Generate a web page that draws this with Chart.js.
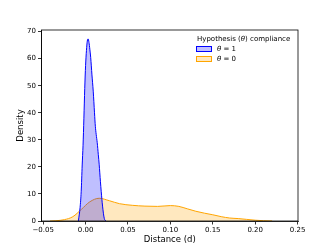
<!DOCTYPE html>
<html><head><meta charset="utf-8">
<script src="https://cdn.jsdelivr.net/npm/chart.js@4"></script>
<style>html,body{margin:0;padding:0;background:#fff}#wrap{width:332px;height:249px}</style>
</head><body><div id="wrap"><canvas id="c" width="332" height="249"></canvas></div>
<script>
// Data (KDE curves)
const blueX = [-0.0085,-0.0065,-0.0052,-0.004,-0.003,-0.002,-0.001,0.0,0.001,0.002,0.003,0.004,0.005,0.006,0.0075,0.009,0.0105,0.0115,0.0125,0.0137,0.015,0.016,0.0175,0.0184,0.02,0.022,0.024];
const blueY = [0,5,10.8,20.7,28,38,49,57.5,63,66.5,67.3,66,63.5,60.5,54,48,40,35,32,29,24.5,21,14.5,11,5.5,1,0];
const orangeX = [-0.042,-0.035,-0.025,-0.015,-0.005,0.005,0.016,0.028,0.04,0.055,0.07,0.085,0.1,0.11,0.12,0.13,0.14,0.15,0.16,0.17,0.18,0.19,0.2,0.21,0.22];
const orangeY = [0,0.1,0.5,1.6,4.3,7.1,8.4,7.5,6.4,5.8,5.5,5.4,5.7,5.4,4.5,3.6,2.9,2.3,1.6,1.1,0.9,0.6,0.3,0.1,0];
const seriesLabels = ['θ = 1','θ = 0'];
const legendTitle = 'Hypothesis (θ) compliance';
const xTicks = [-0.05,0,0.05,0.1,0.15,0.2,0.25];
const yTicks = [0,10,20,30,40,50,60,70];
const xTitle = 'Distance (d)';
const yTitle = 'Density';

const FONT = 'DejaVu Sans';
const toPts = (xs, ys) => xs.map((x,i)=>({x:x,y:ys[i]}));

function drawMixed(ctx, text, x, y, size){
  let cx = x;
  for (const ch of text){
    ctx.font = (ch==='θ' ? 'italic ' : '') + size + 'px "' + FONT + '"';
    ctx.fillText(ch, cx, y);
    cx += ctx.measureText(ch).width;
  }
}

const framePlugin = {
  id:'frame',
  afterDatasetsDraw(chart){
    const {ctx, chartArea:a} = chart;
    ctx.save();
    ctx.strokeStyle = '#000'; ctx.lineWidth = 0.8;
    ctx.strokeRect(a.left, a.top, a.right-a.left, a.bottom-a.top);
    // legend inside
    ctx.fillStyle = '#000'; ctx.textBaseline = 'middle'; ctx.textAlign='left';
    drawMixed(ctx, legendTitle, 197, 39.5, 7);
    chart.data.datasets.forEach((ds,i)=>{
      const y = 49 + i*10;
      ctx.fillStyle = ds.backgroundColor;
      ctx.fillRect(196.5, y-2.5, 15, 5);
      ctx.strokeStyle = ds.borderColor; ctx.lineWidth = 1;
      ctx.strokeRect(196.5, y-2.5, 15, 5);
      ctx.fillStyle = '#000';
      drawMixed(ctx, ds.label, 217, y, 7);
    });
    ctx.restore();
  }
};

new Chart(document.getElementById('c'), {
  type:'scatter',
  data:{datasets:[
    {label:seriesLabels[0], data:toPts(blueX,blueY), showLine:true, fill:'origin',
     borderColor:'#0000ff', backgroundColor:'rgba(0,0,255,0.25)', borderWidth:1,
     pointRadius:0, cubicInterpolationMode:'monotone'},
    {label:seriesLabels[1], data:toPts(orangeX,orangeY), showLine:true, fill:'origin',
     borderColor:'#ffa500', backgroundColor:'rgba(255,165,0,0.25)', borderWidth:1,
     pointRadius:0, cubicInterpolationMode:'monotone'}
  ]},
  options:{
    responsive:false, animation:false, devicePixelRatio:1,
    layout:{padding:{left:16,right:34,top:30,bottom:0}},
    plugins:{legend:{display:false}, tooltip:{enabled:false}},
    scales:{
      x:{type:'linear', min:-0.052, max:0.2505,
        afterBuildTicks(s){ s.ticks = xTicks.map(v=>({value:v})); },
        afterFit(s){ s.height = 28; },
        grid:{display:true, drawOnChartArea:false, drawTicks:true, tickLength:3.5, color:'#000', lineWidth:0.8},
        border:{display:true, color:'#000', width:0.8},
        ticks:{color:'#000', font:{family:FONT, size:7}, padding:1, maxRotation:0, autoSkip:false,
          callback:(v)=> (v<0?'\u2212':'') + Math.abs(v).toFixed(2)},
        title:{display:true, text:xTitle, color:'#000', font:{family:FONT, size:8.5}, padding:{top:1,bottom:4.5}}
      },
      y:{type:'linear', min:0, max:70.6,
        afterBuildTicks(s){ s.ticks = yTicks.map(v=>({value:v})); },
        afterFit(s){ s.width = 25.5; },
        grid:{display:true, drawOnChartArea:false, drawTicks:true, tickLength:3.5, color:'#000', lineWidth:0.8},
        border:{display:true, color:'#000', width:0.8},
        ticks:{color:'#000', font:{family:FONT, size:7}, padding:2, autoSkip:false},
        title:{display:true, text:yTitle, color:'#000', font:{family:FONT, size:8.5}, padding:{top:0,bottom:0}}
      }
    }
  },
  plugins:[framePlugin]
});
</script></body></html>
